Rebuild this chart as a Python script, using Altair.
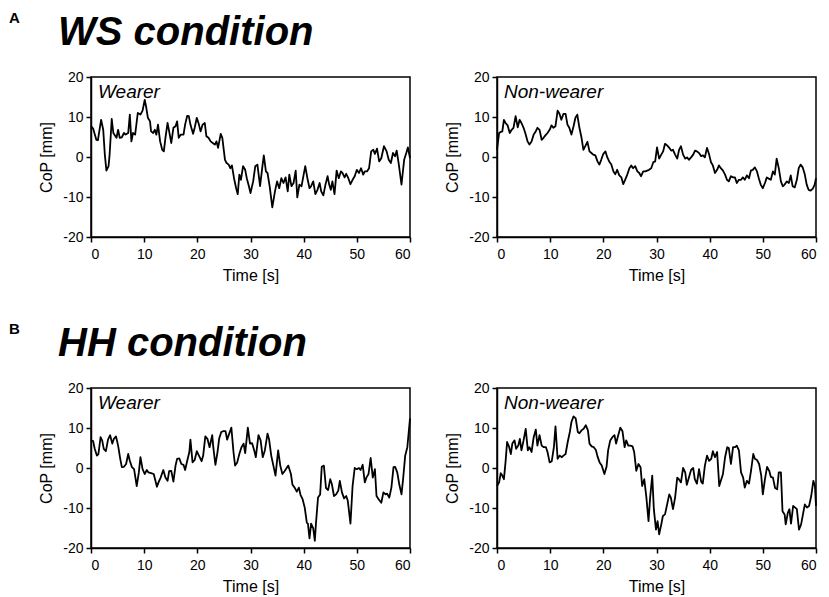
import altair as alt
import pandas as pd

# ---- data ----
ws_w_t = [0, 0.4, 1.0, 1.3, 1.9, 2.3, 2.6, 2.9, 3.3, 3.5, 3.9, 4.2, 4.6, 4.8, 5.1, 5.4, 5.8, 6.2, 6.5, 7.0,
          7.3, 7.6, 7.9, 8.3, 8.8, 9.3, 9.7, 10.1, 10.4, 10.7, 11.1, 11.3, 11.7, 12.0, 12.3, 12.6, 13.0, 13.4, 13.7, 14.0,
          14.4, 14.7, 15.1, 15.5, 15.9, 16.2, 16.5, 16.9, 17.4, 17.7, 18.1, 18.4, 18.7, 19.2, 19.5, 19.9, 20.3, 20.6, 21.0, 21.4,
          21.7, 22.1, 22.5, 22.9, 23.3, 23.6, 23.9, 24.4, 24.7, 25.2, 25.5, 25.9, 26.2, 26.5, 26.9, 27.3, 27.6, 27.9, 28.2, 28.6,
          29.0, 29.3, 29.7, 30.0, 30.5, 30.9, 31.3, 31.8, 32.2, 32.5, 32.9, 33.2, 33.6, 34.1, 34.6, 35.0, 35.4, 35.8, 36.2, 36.6,
          37.0, 37.3, 37.7, 38.1, 38.5, 38.8, 39.2, 39.6, 40.0, 40.3, 40.7, 41.1, 41.4, 41.8, 42.2, 42.6, 43.0, 43.3, 43.7, 44.1,
          44.5, 44.8, 45.1, 45.4, 45.8, 46.2, 46.6, 47.0, 47.3, 47.7, 48.0, 48.4, 48.8, 49.2, 49.6, 50.0, 50.4, 50.8, 51.2, 51.5,
          51.9, 52.3, 52.7, 53.1, 53.4, 53.8, 54.2, 54.6, 55.1, 55.6, 56.0, 56.4, 56.8, 57.2, 57.5, 57.9, 58.4, 58.9, 59.3, 59.6, 60.0]
ws_w_v = [7.7, 7.1, 4.3, 4.2, 9.3, 6.8, 0.6, -3.4, -2.3, 0.6, 9.5, 6.0, 5.2, 4.8, 6.8, 4.8, 4.9, 6.0, 5.6, 6.0,
          10.6, 3.9, 6.0, 5.6, 11.0, 10.6, 11.6, 14.3, 12.3, 9.8, 8.9, 6.4, 6.0, 6.8, 5.6, 8.1, 3.9, 1.8, 1.4, 4.8,
          8.5, 6.4, 3.5, 7.3, 7.7, 8.9, 4.8, 5.6, 5.6, 8.1, 10.3, 10.2, 8.1, 5.8, 7.3, 9.8, 8.1, 6.4, 8.1, 8.5,
          5.2, 4.8, 3.9, 3.5, 3.1, 3.9, 2.3, 5.8, 4.8, -0.7, -1.5, -1.9, -2.8, -2.1, -5.3, -7.8, -9.3, -4.4, -5.7, -2.3,
          -3.2, -5.3, -7.3, -9.0, -6.1, -2.3, -1.9, -7.3, -2.8, 0.4, -3.6, -4.0, -7.3, -12.6, -8.6, -6.1, -7.8, -5.3, -6.5, -5.1,
          -8.6, -4.4, -7.3, -6.5, -3.4, -10.1, -6.9, -7.3, -4.4, -2.3, -5.3, -7.8, -7.3, -6.1, -9.3, -8.2, -6.5, -8.6, -9.6, -6.9,
          -4.8, -6.9, -8.2, -6.1, -9.3, -3.4, -5.3, -3.6, -4.0, -5.1, -4.2, -5.3, -6.8, -5.7, -4.8, -3.2, -4.0, -2.8, -4.4, -3.6,
          -3.6, -2.8, 1.4, 1.8, 0.8, 2.1, -1.1, -0.3, 2.7, 1.4, -0.7, -1.5, 1.0, 0.2, 1.6, -1.9, -6.9, -0.7, 1.0, 2.4, -0.3]

ws_n_t = [0, 0.4, 0.75, 1.0, 1.3, 1.6, 2.0, 2.4, 2.75, 3.1, 3.5, 3.9, 4.25, 4.6, 5.0, 5.4, 5.75, 6.1, 6.5, 6.9,
          7.25, 7.6, 8.0, 8.4, 8.75, 9.1, 9.5, 9.9, 10.25, 10.6, 11.0, 11.4, 11.75, 12.1, 12.5, 12.9, 13.25, 13.6, 14.0, 14.4,
          14.75, 15.1, 15.5, 15.9, 16.25, 16.6, 17.0, 17.4, 17.75, 18.1, 18.5, 18.9, 19.25, 19.6, 20.0, 20.4, 20.75, 21.1, 21.5, 21.9,
          22.25, 22.6, 23.0, 23.4, 23.75, 24.1, 24.5, 24.9, 25.25, 25.6, 26.0, 26.4, 26.75, 27.1, 27.5, 27.9, 28.25, 28.6, 29.0, 29.4,
          29.75, 30.1, 30.5, 30.9, 31.25, 31.6, 32.0, 32.4, 32.75, 33.1, 33.5, 33.9, 34.25, 34.6, 35.0, 35.4, 35.75, 36.1, 36.5, 36.9,
          37.25, 37.6, 38.0, 38.4, 38.75, 39.1, 39.5, 39.9, 40.25, 40.6, 41.0, 41.4, 41.75, 42.1, 42.5, 42.9, 43.25, 43.6, 44.0, 44.4,
          44.75, 45.1, 45.5, 45.9, 46.25, 46.6, 47.0, 47.4, 47.75, 48.1, 48.5, 48.9, 49.25, 49.6, 50.0, 50.4, 50.75, 51.1, 51.5, 51.9,
          52.25, 52.6, 53.0, 53.4, 53.75, 54.1, 54.5, 54.9, 55.25, 55.6, 56.0, 56.4, 56.75, 57.1, 57.5, 57.9, 58.25, 58.6, 59.0, 59.4,
          59.75, 60.0]
ws_n_v = [1.8, 6.0, 6.3, 6.4, 9.3, 8.5, 7.9, 6.0, 6.8, 7.3, 10.2, 7.4, 9.3, 8.5, 7.3, 5.6, 3.9, 3.1, 3.9, 5.6,
          6.3, 7.3, 6.8, 4.3, 4.8, 5.4, 6.0, 6.8, 7.9, 7.3, 7.7, 11.6, 10.8, 9.3, 10.8, 10.8, 8.1, 7.3, 5.6, 7.7,
          9.8, 10.6, 7.3, 4.8, 1.8, 2.7, 3.8, 1.4, 1.0, 0.6, 0.4, -1.1, -1.9, -0.7, 0.8, 1.4, -0.1, -1.1, -1.9, -3.6,
          -4.3, -3.2, -4.6, -5.1, -6.8, -5.7, -4.4, -2.8, -2.1, -2.8, -2.3, -3.6, -4.0, -4.8, -3.6, -3.6, -3.4, -3.2, -2.8, -1.3,
          -1.1, 2.4, -0.4, 0.6, 1.4, 3.3, 2.9, 2.3, 1.6, 1.8, 0.6, -0.4, 1.8, 2.7, 0.6, -0.4, -0.1, -0.7, -0.1, 0.6,
          1.6, 1.4, 1.0, 0.2, 0.4, -0.1, 2.3, 0.6, -1.3, -2.1, -4.0, -3.2, -2.1, -2.8, -3.4, -4.4, -5.7, -6.1, -4.8, -5.1,
          -5.1, -6.5, -5.7, -5.7, -5.1, -5.7, -4.6, -5.3, -3.4, -3.2, -2.6, -3.6, -5.4, -6.9, -7.8, -6.5, -5.1, -5.4, -5.7, -3.6,
          -4.4, -0.4, -2.8, -6.1, -7.3, -6.9, -6.1, -6.5, -4.6, -7.3, -7.6, -5.7, -2.8, -1.9, -2.6, -4.4, -6.9, -8.2, -8.4, -7.9,
          -6.9, -5.3]

hh_w_t = [0, 0.4, 0.7, 1.1, 1.4, 1.8, 2.1, 2.4, 2.8, 3.2, 3.6, 4.0, 4.3, 4.7, 5.1, 5.5, 5.8, 6.2, 6.6, 7.0,
          7.3, 7.7, 8.1, 8.6, 9.0, 9.3, 9.7, 10.1, 10.5, 10.8, 11.3, 11.8, 12.4, 12.7, 13.1, 13.6, 14.0, 14.4, 14.7, 15.1,
          15.5, 15.9, 16.2, 16.6, 17.0, 17.4, 17.7, 18.1, 18.5, 18.7, 19.1, 19.5, 19.9, 20.3, 20.8, 21.1, 21.5, 21.9, 22.3, 22.8,
          23.0, 23.4, 23.8, 24.1, 24.5, 24.9, 25.3, 25.6, 26.0, 26.4, 26.8, 27.1, 27.5, 27.9, 28.3, 28.7, 29.0, 29.5, 29.9, 30.3,
          30.7, 31.0, 31.5, 31.9, 32.3, 32.7, 33.2, 33.5, 33.9, 34.3, 34.7, 35.2, 35.6, 36.0, 36.4, 37.1, 37.6, 37.9, 38.3, 38.7,
          39.1, 39.4, 39.8, 40.2, 40.6, 40.8, 41.1, 41.4, 41.8, 42.1, 42.3, 42.7, 43.1, 43.4, 43.8, 44.2, 44.6, 45.0, 45.3, 45.7,
          46.1, 46.5, 46.8, 47.2, 47.6, 48.0, 48.3, 48.8, 49.2, 49.6, 50.0, 50.4, 50.7, 51.1, 51.5, 51.8, 52.2, 52.6, 53.0, 53.4,
          53.7, 54.1, 54.6, 55.0, 55.4, 55.7, 56.1, 56.5, 56.9, 57.2, 57.6, 58.0, 58.4, 58.7, 59.1, 59.5, 60.0]
hh_w_v = [6.9, 6.7, 4.8, 3.1, 3.5, 7.7, 6.9, 4.8, 4.2, 7.1, 8.2, 6.1, 7.3, 7.9, 5.6, 2.3, 0.2, 0.3, 1.0, 3.5,
          1.8, 0.2, -0.3, -4.5, -1.1, 2.7, -0.3, -1.5, -0.5, -1.1, -1.3, -1.5, -4.7, -3.6, -2.4, -0.5, -2.4, -3.2, -0.8, -0.7,
          -3.4, 0.6, 2.3, 2.4, 1.0, 0.8, -0.5, 1.8, 4.0, 7.1, 1.4, 2.0, 4.2, 3.1, 1.7, 3.1, 7.9, 7.3, 5.2, 8.2,
          5.2, 0.8, 4.0, 7.3, 9.0, 9.2, 9.2, 7.1, 8.6, 10.1, 4.0, 0.6, 1.4, 3.5, 5.2, 6.1, 3.7, 10.1, 6.1, 6.2,
          4.4, 2.7, 8.2, 6.9, 2.7, 4.4, 8.6, 7.1, 3.1, 0.6, -1.9, 4.4, 0.6, -1.5, -0.8, 0.6, -1.5, -4.2, -4.9, -5.9,
          -4.9, -6.7, -7.8, -9.9, -13.7, -13.9, -17.6, -13.9, -15.1, -18.2, -14.1, -7.4, -6.6, 0.3, 0.6, -5.0, -5.5, -2.8, -4.0, -7.0,
          -6.6, -5.7, -3.2, -6.1, -7.6, -7.0, -8.2, -13.9, -4.5, 0.0, -0.3, 0.0, -0.5, 0.8, -3.6, -2.4, -1.5, 2.5, -2.4, -0.3,
          -7.0, -7.8, -8.7, -6.1, -6.6, -6.4, -7.4, -4.9, 0.2, 0.3, -1.1, -4.2, -6.6, -2.8, 3.1, 5.2, 12.4]

hh_n_t = [0, 0.4, 0.7, 1.0, 1.3, 1.6, 1.9, 2.3, 2.6, 2.9, 3.3, 3.6, 4.0, 4.3, 4.6, 5.0, 5.4, 5.8, 6.1, 6.5,
          6.9, 7.3, 7.6, 8.0, 8.4, 8.8, 9.2, 9.5, 9.9, 10.3, 10.7, 11.0, 11.4, 11.8, 12.2, 12.5, 12.9, 13.3, 13.7, 14.0,
          14.4, 14.8, 15.2, 15.5, 15.9, 16.3, 16.7, 17.1, 17.4, 17.8, 18.2, 18.6, 18.9, 19.3, 19.7, 20.2, 20.6, 20.9, 21.3, 21.7,
          22.1, 22.4, 22.8, 23.2, 23.6, 24.0, 24.3, 24.7, 25.1, 25.5, 25.8, 26.2, 26.6, 27.0, 27.3, 27.7, 28.1, 28.5, 28.8, 29.2,
          29.5, 29.9, 30.2, 30.5, 30.9, 31.2, 31.6, 32.0, 32.4, 32.7, 33.1, 33.5, 33.9, 34.2, 34.6, 35.0, 35.4, 35.7, 36.1, 36.5,
          36.9, 37.2, 37.6, 38.0, 38.4, 38.7, 39.1, 39.5, 39.9, 40.3, 40.6, 41.0, 41.4, 41.8, 42.1, 42.5, 42.9, 43.3, 43.6, 44.0,
          44.4, 44.8, 45.1, 45.5, 45.9, 46.3, 46.6, 47.0, 47.4, 47.8, 48.2, 48.5, 48.9, 49.3, 49.7, 50.0, 50.4, 50.8, 51.2, 51.5,
          51.9, 52.3, 52.7, 53.0, 53.4, 53.7, 54.1, 54.3, 54.7, 55.0, 55.3, 55.7, 56.1, 56.4, 56.8, 57.2, 57.6, 57.9, 58.3, 58.7,
          59.1, 59.5, 59.8, 60.0]
hh_n_v = [-4.5, -3.6, -1.3, -1.9, -2.8, 1.4, 6.5, 5.2, 3.5, 6.2, 6.9, 4.8, 5.6, 7.3, 4.4, 6.9, 9.8, 4.4, 5.2, 4.0,
          7.7, 9.6, 5.6, 8.2, 5.6, 5.2, 5.2, 4.0, 1.4, 1.7, 5.2, 10.4, 2.3, 3.1, 2.7, 3.1, 3.5, 6.5, 9.0, 11.5,
          12.9, 12.4, 9.0, 8.7, 9.4, 9.8, 10.7, 9.4, 6.1, 5.4, 5.2, 4.5, 2.9, 1.4, 0.6, -1.5, 0.3, 4.4, 6.9, 7.7,
          8.2, 6.1, 8.2, 10.1, 9.2, 5.2, 6.9, 5.6, 5.6, 5.4, 4.0, -0.7, 1.0, 0.2, -4.5, -2.8, -7.4, -13.3, -7.4, -1.9,
          -10.3, -15.4, -13.3, -16.6, -14.1, -12.0, -11.6, -9.1, -6.6, -7.4, -10.3, -7.4, -2.4, -2.8, -3.6, 0.0, -1.1, -4.2, -2.4, -0.5,
          0.0, -2.8, -3.9, -0.3, -3.4, -3.9, 0.6, 3.1, 1.8, 2.3, 4.2, 2.7, 4.0, -4.5, -3.2, -1.5, 2.7, 5.2, 5.0, 1.0,
          5.2, 5.2, 5.6, 4.4, -1.1, -2.4, -4.9, -3.2, -3.9, -0.5, 3.5, 2.3, 2.0, 1.0, -1.9, -6.6, -2.8, 0.3, -0.7, -2.2,
          -2.4, -5.0, -5.3, -1.1, -1.1, -10.8, -11.6, -14.1, -11.2, -10.3, -13.9, -9.5, -9.9, -10.3, -15.4, -14.1, -11.2, -9.1, -9.9, -9.5,
          -7.0, -3.2, -4.5, -9.5]

x_ticks = [0, 10, 20, 30, 40, 50, 60]
y_ticks = [-20, -10, 0, 10, 20]

FONT = "Liberation Sans"
PW, PH = 319, 160


def panel(t, v, label, letter=None, heading=None):
    df = pd.DataFrame({"t": t, "v": v})
    line = alt.Chart(df).mark_line(color="black", strokeWidth=1.8, strokeJoin="round").encode(
        x=alt.X("t:Q", scale=alt.Scale(domain=[0, 60], nice=False, zero=False),
                axis=alt.Axis(values=x_ticks, title="Time [s]", labelExpr="datum.value + ''")),
        y=alt.Y("v:Q", scale=alt.Scale(domain=[-20, 20], nice=False),
                axis=alt.Axis(values=y_ticks, title="CoP [mm]", labelExpr="datum.value + ''")),
    )
    layers = [line]
    lab = alt.Chart(pd.DataFrame({"s": [label]})).mark_text(
        align="left", baseline="alphabetic", font=FONT, fontSize=19, fontStyle="italic", color="black"
    ).encode(text="s:N", x=alt.value(7), y=alt.value(21))
    layers.append(lab)
    if letter:
        lt = alt.Chart(pd.DataFrame({"s": [letter]})).mark_text(
            align="left", baseline="alphabetic", font=FONT, fontSize=15, fontWeight="bold", color="black"
        ).encode(text="s:N", x=alt.value(-82), y=alt.value(-54))
        hd = alt.Chart(pd.DataFrame({"s": [heading]})).mark_text(
            align="left", baseline="alphabetic", font=FONT, fontSize=40, fontWeight="bold",
            fontStyle="italic", color="black"
        ).encode(text="s:N", x=alt.value(-33), y=alt.value(-32))
        layers += [lt, hd]
    return alt.layer(*layers).properties(width=PW, height=PH)


row1 = alt.hconcat(
    panel(ws_w_t, ws_w_v, "Wearer", "A", "WS condition"),
    panel(ws_n_t, ws_n_v, "Non-wearer"),
    spacing=32,
)
row2 = alt.hconcat(
    panel(hh_w_t, hh_w_v, "Wearer", "B", "HH condition"),
    panel(hh_n_t, hh_n_v, "Non-wearer"),
    spacing=32,
)

chart = alt.vconcat(row1, row2, spacing=37).properties(
    padding={"top": 2, "left": 0, "right": 0, "bottom": 0}, background="white"
).configure_view(
    stroke="black", strokeWidth=1.5
).configure_axis(
    grid=False, domainColor="black", domainWidth=1.5, tickColor="black", tickWidth=1.5, tickSize=5,
    labelFont=FONT, labelFontSize=14, labelColor="black", labelPadding=3,
    titleFont=FONT, titleFontSize=16, titleFontWeight="normal", titleColor="black",
)
chart = chart.configure_axisY(titlePadding=8).configure_axisX(labelPadding=5, titlePadding=6)

chart.save("out.html", embed_options={"renderer": "svg", "actions": False})
